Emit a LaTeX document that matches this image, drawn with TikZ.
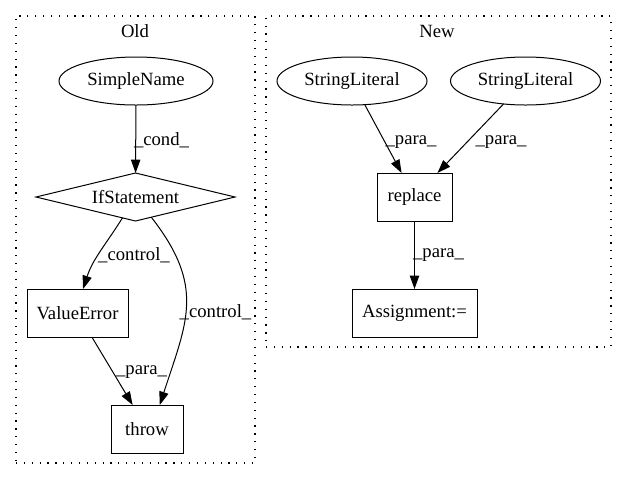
\documentclass[tikz,border=0pt]{standalone}
\usepackage{fontspec}
\setmainfont{Liberation Serif}
\usetikzlibrary{shapes.geometric,arrows.meta}
\begin{document}
\begin{tikzpicture}[x=0.75pt,y=-0.75pt,
  every node/.style={inner sep=0pt, outer sep=0pt, font=\fontsize{14pt}{16pt}\selectfont},
  ell/.style={draw, ellipse, line width=0.75pt, minimum width=112.5pt, minimum height=36pt},
  boxnode/.style={draw, rectangle, line width=0.75pt, minimum height=36pt},
  dia/.style={draw, diamond, aspect=4.15, line width=0.75pt, minimum width=149.25pt, minimum height=36pt},
  cluster/.style={draw, rectangle, line width=0.9pt, dash pattern=on 0.9pt off 5pt},
  edge/.style={line width=0.75pt, -{Triangle[length=10pt,width=7pt]}},
  lbl/.style={}
]
\useasboundingbox (0,0) rectangle (627,480);
% clusters
\node[cluster, minimum width=179.25pt, minimum height=335.25pt] (old) at (135.5,239.5) {};
\node[cluster, minimum width=258.75pt, minimum height=248.25pt] (new) at (438.5,181.5) {};
\node (oldlbl) at (135,31) {Old};
\node (newlbl) at (437,31) {New};
% Old nodes
\node[ell, minimum width=115.5pt] (sn) at (136,81) {SimpleName};
\node[dia] (if) at (135.5,197) {IfStatement};
\node[boxnode, minimum width=75.75pt] (ve) at (77.5,313) {ValueError};
\node[boxnode, minimum width=54pt] (th) at (147,429) {throw};
% New nodes
\node[ell] (sl1) at (352,81) {StringLiteral};
\node[ell] (sl2) at (525.5,81) {StringLiteral};
\node[boxnode, minimum width=56.25pt] (rep) at (414.5,197) {replace};
\node[boxnode, minimum width=93.75pt] (asg) at (414.5,313) {Assignment:=};
% edges
\draw[edge] (sn) -- (if);
\draw[edge] (if) to[out=238,in=72] (ve.77);
\draw[edge] (if) to[out=308,in=72,looseness=1.2] (th.62);
\draw[edge] (ve) -- (th);
\draw[edge] (sl1) -- (rep);
\draw[edge] (sl2) -- (rep);
\draw[edge] (rep) -- (asg);
% edge labels
\node[lbl] (l1) at (161.5,140) {\_cond\_};
\node[lbl] (l2) at (134,255) {\_control\_};
\node[lbl] (l3) at (215.5,312) {\_control\_};
\node[lbl] (l4) at (141.5,372) {\_para\_};
\node[lbl] (l5) at (411,142) {\_para\_};
\node[lbl] (l6) at (501,142) {\_para\_};
\node[lbl] (l7) at (438.5,255) {\_para\_};
\end{tikzpicture}
\end{document}
